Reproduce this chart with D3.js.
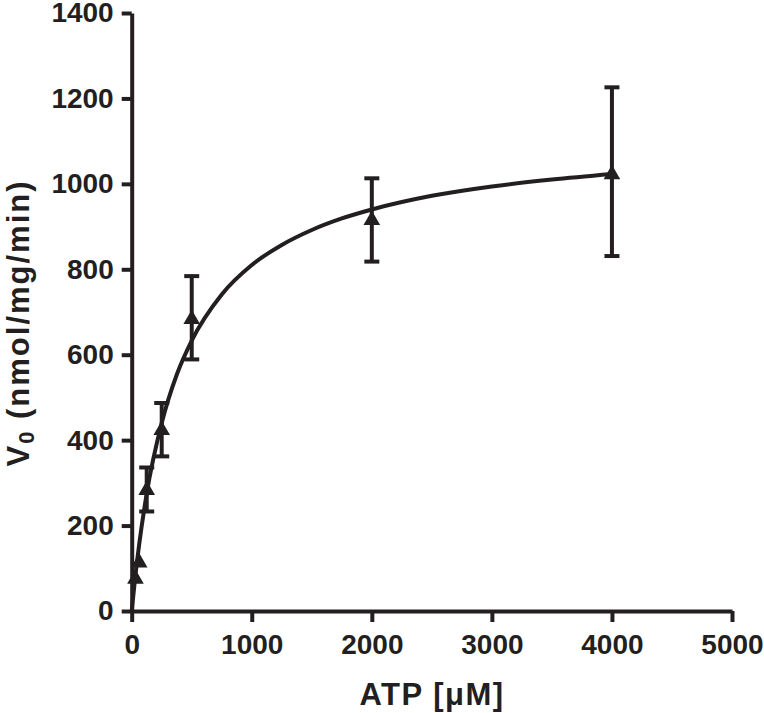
<!DOCTYPE html>
<html>
<head>
<meta charset="utf-8">
<script src="https://cdn.jsdelivr.net/npm/d3@7"></script>
<style>
  html, body { margin: 0; padding: 0; background: #fff; }
  svg { display: block; font-family: "Liberation Sans", Arial, sans-serif; }
</style>
</head>
<body>
<svg id="plot" width="764" height="713"></svg>
<script>
// ATP concentrations (uM) and measured V0 with error bars
const atp = [31.25, 62.5, 125, 250, 500, 2000, 4000];
const v0 = [75, 113, 283, 423, 683, 915, 1022];
const errHi = [75, 113, 336, 487, 784, 1013, 1226];
const errLo = [75, 113, 233, 362, 589, 818, 831];

// fitted curve
const fitX = [0, 31.25, 62.5, 125, 250, 375, 500, 750, 1000, 1250, 1500, 1750, 2000, 2500, 3000, 3500, 4000];
const fitY = [0, 84, 156, 275, 440, 553, 633, 741, 810, 857, 892, 919, 940, 972, 994, 1010, 1023];

const xTicks = [0, 1000, 2000, 3000, 4000, 5000];
const yTicks = [0, 200, 400, 600, 800, 1000, 1200, 1400];

const ink = '#231f20';
const plot = d3.select('#plot');

const xScale = d3.scaleLinear()
                 .domain([0, 5000])
                 .range([131.7, 732]);

const yScale = d3.scaleLinear()
                 .domain([0, 1400])
                 .range([611, 13]);

const xAxis = d3.axisBottom(xScale)
                .tickValues(xTicks)
                .tickFormat(d3.format('d'))
                .tickSizeInner(11)
                .tickSizeOuter(0)
                .tickPadding(12);

const yAxis = d3.axisLeft(yScale)
                .tickValues(yTicks)
                .tickFormat(d3.format('d'))
                .tickSizeInner(10)
                .tickSizeOuter(0)
                .tickPadding(8);

function styleAxis(g) {
  g.select('.domain').attr('stroke', ink).attr('stroke-width', 4);
  g.selectAll('.tick line').attr('stroke', ink).attr('stroke-width', 4);
  g.selectAll('.tick text')
   .attr('fill', ink)
   .style('font-size', '28px')
   .style('font-weight', 'bold');
}

plot.append('g')
    .classed('xAxis', true)
    .attr('transform', `translate(0, ${yScale(0)})`)
    .call(xAxis)
    .call(styleAxis);

plot.append('g')
    .classed('yAxis', true)
    .attr('transform', `translate(${xScale(0)}, 0)`)
    .call(yAxis)
    .call(styleAxis);

/* fitted curve */
const line = d3.line()
               .x((d, i) => xScale(fitX[i]))
               .y((d, i) => yScale(fitY[i]))
               .curve(d3.curveMonotoneX);

plot.append('path')
    .classed('fit', true)
    .attr('d', line(fitX))
    .attr('fill', 'none')
    .attr('stroke', ink)
    .attr('stroke-width', 4);

/* error bars */
const points = atp.map((x, i) => ({x: x, y: v0[i], hi: errHi[i], lo: errLo[i]}));
const capW = 15;

const bars = plot.append('g').classed('errors', true)
    .attr('stroke', ink)
    .attr('stroke-width', 4)
    .selectAll('g')
    .data(points.filter(d => d.hi > d.lo))
    .join('g');

bars.append('line')
    .attr('x1', d => xScale(d.x)).attr('x2', d => xScale(d.x))
    .attr('y1', d => yScale(d.hi)).attr('y2', d => yScale(d.lo));

bars.append('line')
    .attr('x1', d => xScale(d.x) - capW / 2).attr('x2', d => xScale(d.x) + capW / 2)
    .attr('y1', d => yScale(d.hi)).attr('y2', d => yScale(d.hi));

bars.append('line')
    .attr('x1', d => xScale(d.x) - capW / 2).attr('x2', d => xScale(d.x) + capW / 2)
    .attr('y1', d => yScale(d.lo)).attr('y2', d => yScale(d.lo));

/* triangle markers */
plot.append('g').classed('markers', true)
    .selectAll('path')
    .data(points)
    .join('path')
    .attr('d', d3.symbol(d3.symbolTriangle, 120))
    .attr('transform', d => `translate(${xScale(d.x)}, ${yScale(d.y)})`)
    .attr('fill', ink);

/* axis titles */
plot.append('text')
    .attr('x', 432)
    .attr('y', 705)
    .attr('text-anchor', 'middle')
    .attr('fill', ink)
    .style('font-size', '31px')
    .style('font-weight', 'bold')
    .style('letter-spacing', '1.5px')
    .text('ATP [\u03bcM]');

const yTitle = plot.append('text')
    .attr('transform', 'translate(29, 323) rotate(-90)')
    .attr('text-anchor', 'middle')
    .attr('fill', ink)
    .style('font-size', '31px')
    .style('font-weight', 'bold')
    .style('letter-spacing', '2px');

yTitle.append('tspan').text('V');
yTitle.append('tspan').attr('dy', 5).style('font-size', '22px').text('0');
yTitle.append('tspan').attr('dy', -5).text(' (nmol/mg/min)');
</script>
</body>
</html>
